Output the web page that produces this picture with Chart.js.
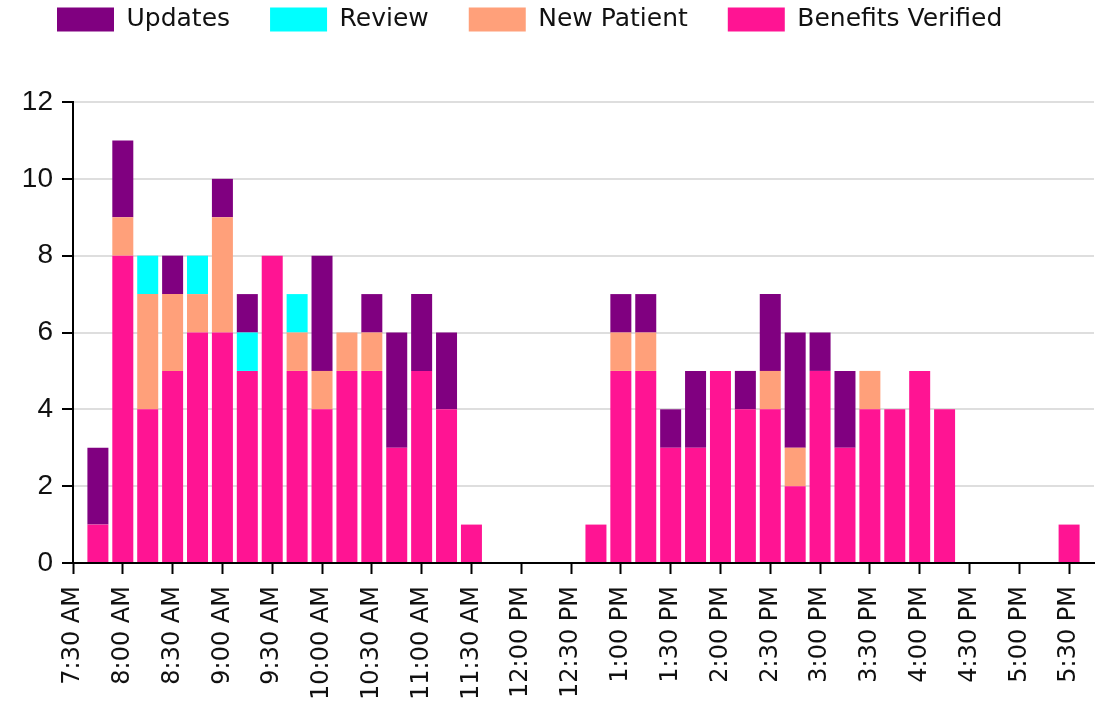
<!DOCTYPE html>
<html>
<head>
<meta charset="utf-8">
<script src="https://cdn.jsdelivr.net/npm/chart.js@4.4.1/dist/chart.umd.min.js"></script>
<style>
  body { margin: 0; background: #fff; }
  #wrap { width: 1114px; height: 705px; position: relative; }
</style>
</head>
<body>
<div id="wrap"><canvas id="myChart"></canvas></div>
<script>
// 15 minute slots, labels shown every 30 minutes
const timeSlots = [
  "7:30 AM", "7:45 AM", "8:00 AM", "8:15 AM", "8:30 AM", "8:45 AM", "9:00 AM", "9:15 AM",
  "9:30 AM", "9:45 AM", "10:00 AM", "10:15 AM", "10:30 AM", "10:45 AM", "11:00 AM", "11:15 AM",
  "11:30 AM", "11:45 AM", "12:00 PM", "12:15 PM", "12:30 PM", "12:45 PM", "1:00 PM", "1:15 PM",
  "1:30 PM", "1:45 PM", "2:00 PM", "2:15 PM", "2:30 PM", "2:45 PM", "3:00 PM", "3:15 PM",
  "3:30 PM", "3:45 PM", "4:00 PM", "4:15 PM", "4:30 PM", "4:45 PM", "5:00 PM", "5:15 PM",
  "5:30 PM", "5:45 PM"
];

const benefitsVerified = [0, 1, 8, 4, 5, 6, 6, 5, 8, 5, 4, 5, 5, 3, 5, 4, 1, 0, 0, 0, 0, 1, 5, 5, 3, 3, 5, 4, 4, 2, 5, 3, 4, 4, 5, 4, 0, 0, 0, 0, 1, 0];
const newPatient = [0, 0, 1, 3, 2, 1, 3, 0, 0, 1, 1, 1, 1, 0, 0, 0, 0, 0, 0, 0, 0, 0, 1, 1, 0, 0, 0, 0, 1, 1, 0, 0, 1, 0, 0, 0, 0, 0, 0, 0, 0, 0];
const review = [0, 0, 0, 1, 0, 1, 0, 1, 0, 1, 0, 0, 0, 0, 0, 0, 0, 0, 0, 0, 0, 0, 0, 0, 0, 0, 0, 0, 0, 0, 0, 0, 0, 0, 0, 0, 0, 0, 0, 0, 0, 0];
const updates = [0, 2, 2, 0, 1, 0, 1, 1, 0, 0, 3, 0, 1, 3, 2, 2, 0, 0, 0, 0, 0, 0, 1, 1, 1, 2, 0, 1, 2, 3, 1, 2, 0, 0, 0, 0, 0, 0, 0, 0, 0, 0];

const yTicks = [0, 2, 4, 6, 8, 10, 12];

// legend needs more room below it and sits higher than chart.js puts it
const legendSpacing = {
  id: 'legendSpacing',
  beforeInit(chart) {
    const fit = chart.legend.fit;
    chart.legend.fit = function () {
      fit.bind(chart.legend)();
      this.height = 102;
    };
  },
  afterLayout(chart) {
    chart.legend.top = -33;
  }
};

const ctx = document.getElementById('myChart').getContext('2d');

new Chart(ctx, {
  type: 'bar',
  data: {
    labels: timeSlots,
    datasets: [
      { label: 'Benefits Verified', data: benefitsVerified, backgroundColor: '#ff1493' },
      { label: 'New Patient', data: newPatient, backgroundColor: '#ffa07a' },
      { label: 'Review', data: review, backgroundColor: '#00ffff' },
      { label: 'Updates', data: updates, backgroundColor: '#800080' }
    ]
  },
  options: {
    responsive: true,
    maintainAspectRatio: false,
    animation: false,
    barThickness: 21,
    inflateAmount: 0,
    layout: { padding: { left: 17, right: 20, top: 0, bottom: 0 } },
    plugins: {
      tooltip: { enabled: false },
      legend: {
        position: 'top',
        align: 'start',
        reverse: true,
        labels: {
          boxWidth: 57,
          boxHeight: 24,
          padding: 40,
          color: '#111',
          font: { family: 'DejaVu Sans', size: 25 }
        }
      }
    },
    scales: {
      x: {
        stacked: true,
        offset: false,
        afterFit(scale) {
          scale.height = 142;
          scale.paddingLeft = 0;
          scale.paddingRight = 0;
        },
        grid: {
          offset: false,
          drawOnChartArea: false,
          drawTicks: true,
          tickLength: 11,
          tickWidth: 2,
          tickColor: c => (c.index % 2 === 0 ? '#000' : 'rgba(0,0,0,0)')
        },
        border: { color: '#000', width: 2 },
        ticks: {
          autoSkip: false,
          minRotation: 90,
          maxRotation: 90,
          padding: 12,
          color: '#111',
          font: { family: 'DejaVu Sans', size: 24 },
          callback: function (value, index) {
            return index % 2 === 0 ? timeSlots[index] : '';
          }
        }
      },
      y: {
        stacked: true,
        min: yTicks[0],
        max: yTicks[yTicks.length - 1],
        afterFit(scale) { scale.width = 56; },
        grid: {
          color: '#dedede',
          lineWidth: 2,
          tickLength: 11,
          tickWidth: 2,
          tickColor: '#000'
        },
        border: { color: '#000', width: 2 },
        ticks: {
          stepSize: 2,
          padding: 9,
          color: '#111',
          font: { family: 'Liberation Sans', size: 28 }
        }
      }
    }
  },
  plugins: [legendSpacing]
});
</script>
</body>
</html>
